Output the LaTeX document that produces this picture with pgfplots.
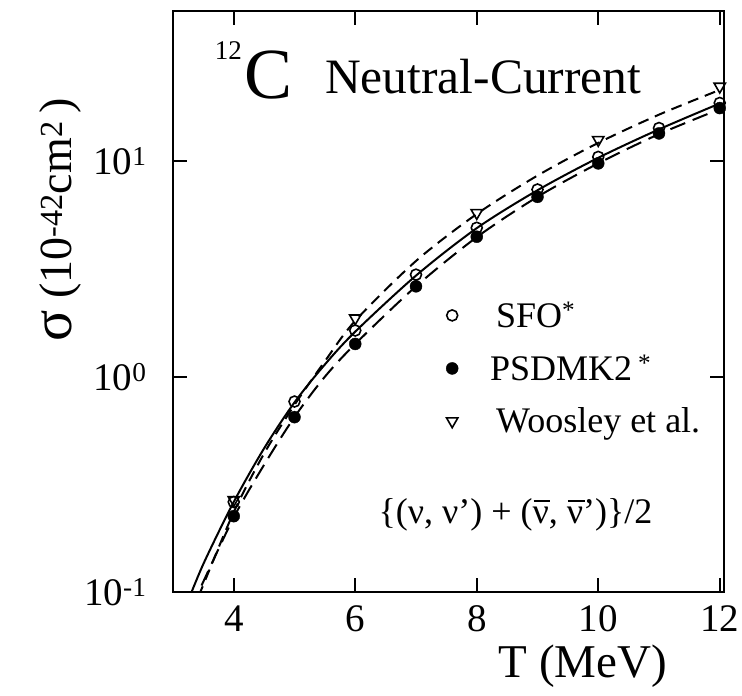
\documentclass[border=0pt]{standalone}
\usepackage{fontspec}
\setmainfont{Liberation Serif}
\usepackage{pgfplots}
\pgfplotsset{compat=1.18}
\newcommand\nubar{\leavevmode\rlap{\hspace{0.03em}\rule[0.6em]{0.46em}{0.045em}}ν}

\pgfplotstableread{
T sig
3.20 0.084
3.50 0.135
4.00 0.262
4.50 0.465
5.00 0.76
5.50 1.14
6.00 1.62
7.00 2.95
8.00 4.90
9.00 7.35
10.0 10.4
11.0 14.1
12.0 18.6
}\solidtab

\pgfplotstableread{
T sig
3.30 0.085
3.42 0.100
4.00 0.222
4.50 0.39
5.00 0.65
5.50 1.00
6.00 1.42
7.00 2.63
8.00 4.45
9.00 6.85
10.0 9.80
11.0 13.4
12.0 17.5
}\longtab

\pgfplotstableread{
T sig
3.30 0.080
3.45 0.100
4.00 0.235
4.50 0.44
5.00 0.74
5.50 1.18
6.00 1.82
7.00 3.45
8.00 5.70
9.00 8.60
10.0 12.2
11.0 16.5
12.0 21.5
}\shorttab

\begin{document}
\begin{tikzpicture}[x=1pt,y=1pt]
\path[use as bounding box] (0,0) rectangle (742,696);
\begin{axis}[
  at={(173pt,104pt)}, anchor=south west,
  width=551pt, height=581pt, scale only axis,
  ymode=log, xmin=3, xmax=12.07, ymin=0.1, ymax=50,
  xtick={4,6,8,10,12},
  xticklabels={4,6,8,10,12},
  ytick={0.1,1,10},
  yticklabels={10\textsuperscript{-1},10\textsuperscript{0},10\textsuperscript{1}},
  yminorticks=false,
  tick align=inside,
  major tick length=14pt,
  axis line style={line width=2pt},
  every tick/.style={black, line width=2pt},
  tick label style={font=\fontsize{39}{39}\selectfont},
  xticklabel style={yshift=-10pt},
  yticklabel style={xshift=-23pt},
  legend cell align=left,
  legend style={at={(0.49,0.51)}, anchor=north west, draw=none, fill=none,
    font=\fontsize{36}{36}\selectfont, row sep=18pt,
    nodes={inner sep=4pt},
    /tikz/every odd column/.append style={column sep=34pt}},
]
\addplot[black, line width=2pt, smooth, forget plot] table[x=T,y=sig] {\solidtab};
\addplot[black, line width=2pt, smooth, dash pattern=on 16pt off 8pt, forget plot] table[x=T,y=sig] {\longtab};
\addplot[black, line width=2pt, smooth, dash pattern=on 11pt off 7pt, forget plot] table[x=T,y=sig] {\shorttab};

\addplot[only marks, mark=o, mark size=5.5pt, mark options={black, line width=1.6pt}] coordinates {
(4,0.262) (5,0.767) (6,1.64) (7,2.98) (8,4.92) (9,7.41) (10,10.5) (11,14.3) (12,18.7)};
\addlegendentry{SFO\textsuperscript{*}}
\addplot[only marks, mark=*, mark size=6pt, mark options={black}] coordinates {
(4,0.225) (5,0.649) (6,1.42) (7,2.63) (8,4.47) (9,6.85) (10,9.8) (11,13.5) (12,17.7)};
\addlegendentry{\hspace{-6pt}PSDMK2\,\textsuperscript{*}}
\addplot[only marks, mark=triangle, mark size=6.5pt, mark options={black, rotate=180, line width=1.6pt}] coordinates {
(4,0.268) (6,1.87) (8,5.77) (10,12.6) (12,22.3)};
\addlegendentry{Woosley et al.}
\end{axis}

\node[anchor=base east, font=\fontsize{27}{27}\selectfont, inner sep=0pt] at (242,636) {12};
\node[anchor=base west, font=\fontsize{72}{72}\selectfont, inner sep=0pt] at (244,597) {C};
\node[anchor=base west, font=\fontsize{49.5}{50}\selectfont, inner sep=0pt] at (325,602.5) {Neutral-Current};
\node[font=\fontsize{36}{36}\selectfont, inner sep=0pt] at (515.5,181) {\{(ν, ν’) + (\nubar, \nubar’)\}/2};
\node[anchor=base, font=\fontsize{47}{47}\selectfont, inner sep=0pt] at (583,18) {T (MeV)};
\node[rotate=90, font=\fontsize{46}{46}\selectfont, inner sep=0pt] at (60,476) {{\fontsize{58}{58}\selectfont σ} (10\textsuperscript{-42}cm\textsuperscript{2}\,)};
\end{tikzpicture}
\end{document}
